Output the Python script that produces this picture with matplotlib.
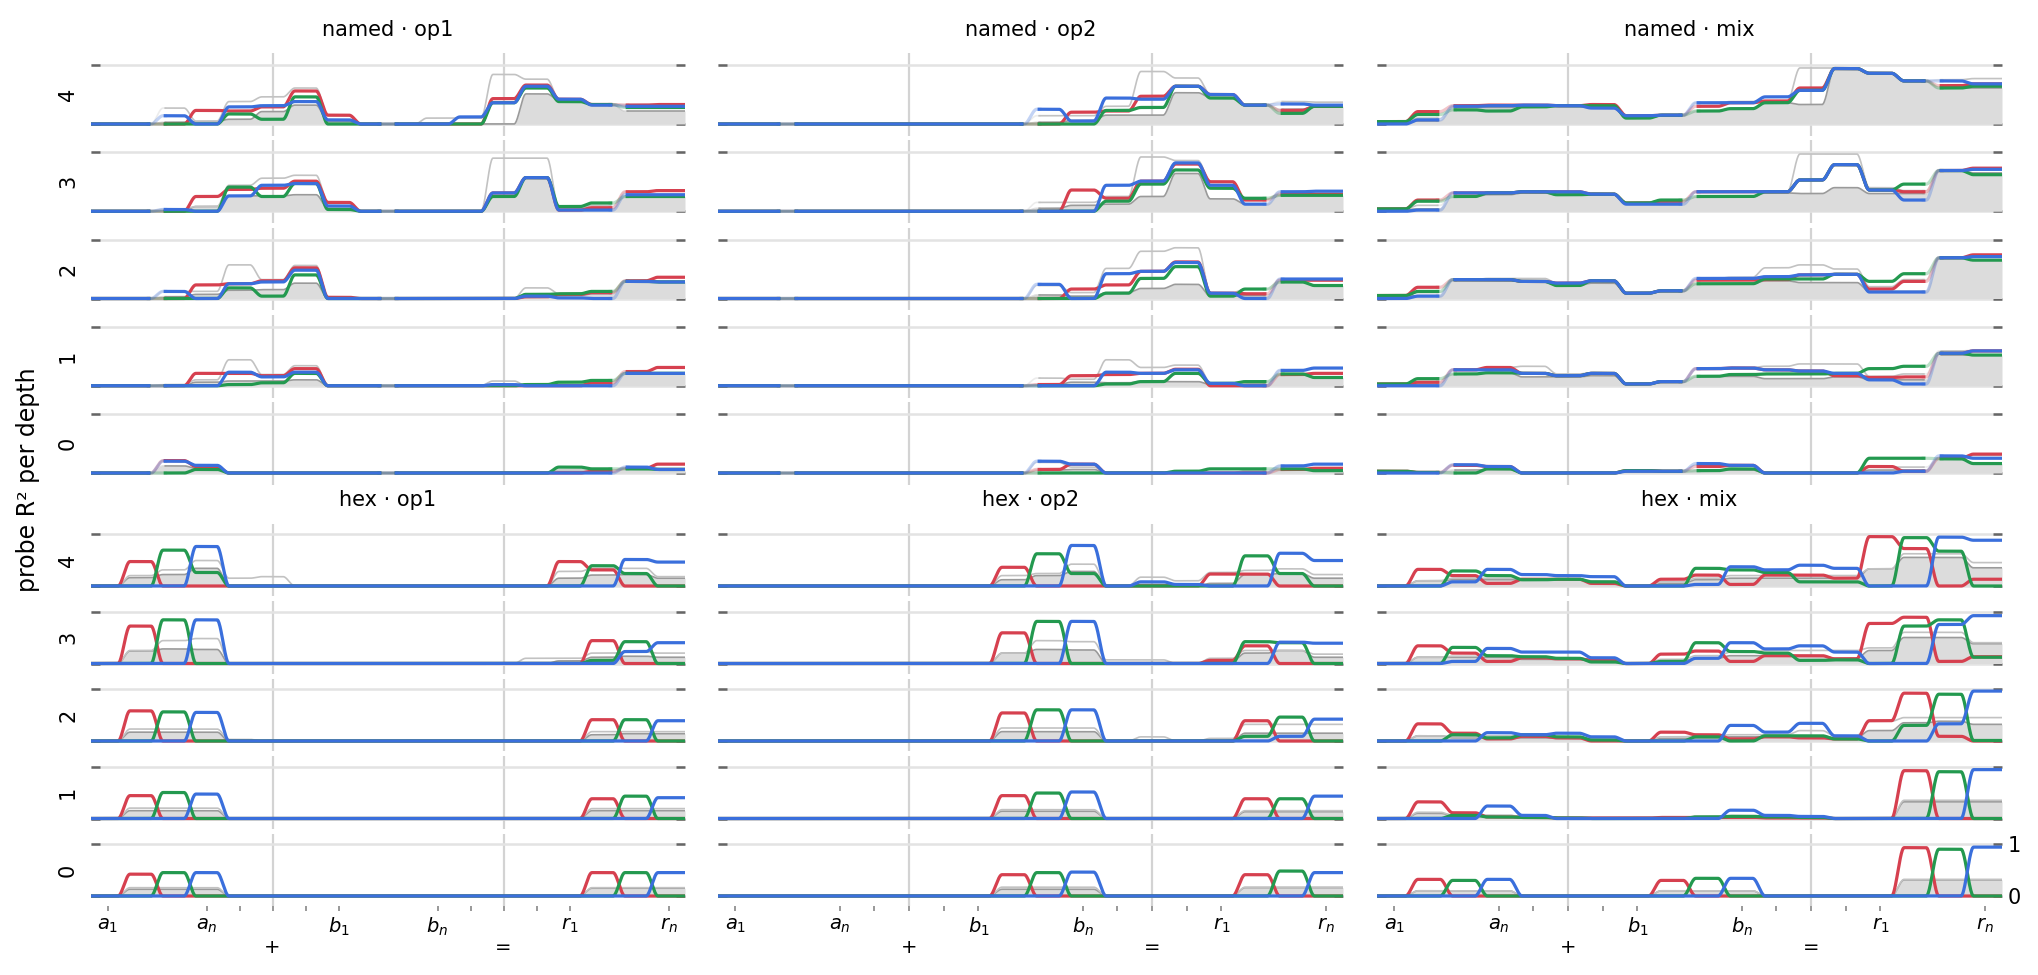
import numpy as np
import matplotlib
matplotlib.use("Agg")
import matplotlib.pyplot as plt

# ── Data: probe R² per token position, rows = depth 4 (top) .. 0 (bottom) ──
DEPTHS = [4, 3, 2, 1, 0]
TICK_POS = [0, 3, 4, 5, 6, 7, 10, 11, 12, 13, 14, 17]
TICK_LABELS = ["$a_1$", "$a_n$", "", "\n+", "", "$b_1$", "$b_n$", "", "\n=", "", "$r_1$", "$r_n$"]

NAMED_OP1_RED = [
    [0, 0, 0, .23, .22, .29, .56, .15, 0, 0, 0, 0, .43, .66, .42, .33, .32, .33],
    [0, 0, 0, .25, .37, .39, .51, .15, 0, 0, 0, 0, .31, .57, .02, .06, .33, .35],
    [0, 0, 0, .23, .25, .30, .52, .02, 0, 0, 0, 0, 0, .03, .07, .10, .30, .36],
    [0, 0, 0, .21, .21, .17, .29, 0, 0, 0, 0, 0, 0, 0, 0, .05, .24, .31],
    [0, 0, .21, .11, 0, 0, 0, 0, 0, 0, 0, 0, 0, 0, 0, .03, .08, .15],
]
NAMED_OP1_GREEN = [
    [0, 0, 0, 0, .17, .08, .46, 0, 0, 0, 0, 0, .36, .61, .38, .33, .28, .28],
    [0, 0, 0, 0, .41, .25, .47, .03, 0, 0, 0, 0, .25, .57, .08, .14, .25, .25],
    [0, 0, 0, 0, .18, .04, .40, 0, 0, 0, 0, 0, 0, .07, .08, .12, .29, .28],
    [0, 0, 0, 0, .02, .05, .21, 0, 0, 0, 0, 0, 0, .02, .06, .09, .21, .21],
    [0, 0, 0, .06, 0, 0, 0, 0, 0, 0, 0, 0, 0, 0, .10, .07, .07, .06],
]
NAMED_OP1_BLUE = [
    [0, 0, .14, 0, .29, .31, .38, .07, 0, 0, 0, .12, .36, .64, .42, .32, .30, .30],
    [0, 0, .03, 0, .26, .44, .47, .09, 0, 0, 0, 0, .31, .57, .02, .02, .28, .28],
    [0, 0, .12, 0, .25, .28, .48, 0, 0, 0, 0, 0, 0, .04, .01, 0, .29, .28],
    [0, 0, 0, 0, .23, .15, .23, 0, 0, 0, 0, 0, .02, 0, 0, 0, .21, .21],
    [0, 0, .20, .13, 0, 0, 0, 0, 0, 0, 0, 0, 0, 0, 0, 0, .10, .06],
]
NAMED_OP1_GRAY = [
    [0, 0, .27, .05, .38, .46, .61, .14, 0, 0, .10, .10, .84, .76, .42, .33, .33, .33],
    [0, 0, .04, .08, .44, .56, .61, .15, 0, 0, 0, 0, .90, .90, .05, .10, .33, .35],
    [0, 0, .12, .12, .57, .32, .56, .02, 0, 0, 0, 0, 0, .18, .08, .12, .30, .30],
    [0, 0, .02, .10, .44, .19, .34, 0, 0, 0, 0, 0, .08, 0, .06, .09, .22, .22],
    [0, 0, .21, .12, 0, 0, 0, 0, 0, 0, 0, 0, 0, 0, .05, .05, .08, .08],
]
NAMED_OP1_FILL = [
    [0, 0, .03, .04, .08, .21, .32, .04, 0, 0, 0, 0, 0, .51, .40, .33, .22, .22],
    [0, 0, 0, .08, .26, .26, .28, .05, 0, 0, 0, 0, .25, .57, .02, .03, .25, .25],
    [0, 0, .03, .07, .14, .15, .26, 0, 0, 0, 0, 0, 0, .02, .05, .08, .28, .28],
    [0, 0, .01, .06, .08, .08, .10, 0, 0, 0, 0, 0, 0, 0, .02, .04, .20, .20],
    [0, 0, .12, .08, 0, 0, 0, 0, 0, 0, 0, 0, 0, 0, .02, .02, .07, .06],
]

NAMED_OP2_RED = [
    [0, 0, 0, 0, 0, 0, 0, 0, 0, 0, .20, .22, .47, .64, .50, .32, .23, .30],
    [0, 0, 0, 0, 0, 0, 0, 0, 0, 0, .36, .22, .51, .80, .50, .19, .29, .29],
    [0, 0, 0, 0, 0, 0, 0, 0, 0, 0, .16, .23, .46, .62, .09, .08, .31, .31],
    [0, 0, 0, 0, 0, 0, 0, 0, 0, .02, .17, .19, .21, .28, 0, 0, .19, .21],
    [0, 0, 0, 0, 0, 0, 0, 0, 0, .06, .15, 0, 0, 0, 0, 0, .06, .08],
]
NAMED_OP2_GREEN = [
    [0, 0, 0, 0, 0, 0, 0, 0, 0, 0, 0, .23, .28, .64, .44, .32, .18, .30],
    [0, 0, 0, 0, 0, 0, 0, 0, 0, 0, 0, .17, .46, .70, .39, .22, .27, .27],
    [0, 0, 0, 0, 0, 0, 0, 0, 0, 0, 0, .09, .34, .54, .04, .16, .28, .22],
    [0, 0, 0, 0, 0, 0, 0, 0, 0, 0, 0, .03, .07, .21, .04, .07, .20, .14],
    [0, 0, 0, 0, 0, 0, 0, 0, 0, 0, 0, 0, 0, .03, .07, .07, .07, .04],
]
NAMED_OP2_BLUE = [
    [0, 0, 0, 0, 0, 0, 0, 0, 0, .25, .05, .44, .42, .64, .50, .32, .34, .32],
    [0, 0, 0, 0, 0, 0, 0, 0, 0, 0, 0, .44, .51, .82, .44, .12, .33, .34],
    [0, 0, 0, 0, 0, 0, 0, 0, 0, .24, 0, .42, .46, .61, .09, 0, .33, .33],
    [0, 0, 0, 0, 0, 0, 0, 0, 0, 0, 0, .23, .21, .27, .04, 0, .26, .30],
    [0, 0, 0, 0, 0, 0, 0, 0, 0, .20, .15, 0, 0, 0, 0, 0, .12, .15],
]
NAMED_OP2_GRAY = [
    [0, 0, 0, 0, 0, 0, 0, 0, 0, .14, .14, .30, .89, .78, .50, .33, .38, .37],
    [0, 0, 0, 0, 0, 0, 0, 0, 0, .15, .15, .25, .92, .86, .50, .20, .33, .34],
    [0, 0, 0, 0, 0, 0, 0, 0, 0, .22, .10, .51, .80, .86, .10, .16, .33, .33],
    [0, 0, 0, 0, 0, 0, 0, 0, 0, .13, .11, .44, .31, .35, .05, .07, .26, .30],
    [0, 0, 0, 0, 0, 0, 0, 0, 0, .18, .10, 0, 0, 0, 0, .04, .12, .15],
]
NAMED_OP2_FILL = [
    [0, 0, 0, 0, 0, 0, 0, 0, 0, .03, .06, .15, .15, .53, .45, .32, .25, .30],
    [0, 0, 0, 0, 0, 0, 0, 0, 0, .05, .10, .12, .25, .64, .21, .12, .27, .27],
    [0, 0, 0, 0, 0, 0, 0, 0, 0, .06, .04, .10, .17, .24, .04, .05, .28, .22],
    [0, 0, 0, 0, 0, 0, 0, 0, 0, .02, .06, .05, .07, .07, .02, .03, .19, .14],
    [0, 0, 0, 0, 0, 0, 0, 0, 0, .05, .06, 0, 0, 0, 0, .02, .06, .04],
]

NAMED_MIX_RED = [
    [.04, .21, .31, .32, .32, .31, .33, .14, .15, .30, .36, .39, .61, .94, .86, .73, .65, .68],
    [.04, .19, .31, .31, .33, .33, .29, .14, .17, .33, .33, .33, .53, .79, .36, .33, .69, .73],
    [.05, .19, .32, .32, .29, .26, .30, .09, .13, .31, .31, .32, .40, .41, .16, .29, .69, .74],
    [.03, .06, .27, .31, .21, .17, .21, .03, .07, .29, .30, .27, .25, .17, .14, .15, .55, .59],
    [.03, .01, .13, .11, 0, 0, 0, .04, .03, .11, .13, 0, 0, 0, .11, .03, .25, .32],
]
NAMED_MIX_GREEN = [
    [.04, .16, .24, .22, .29, .31, .31, .10, .15, .22, .26, .36, .57, .94, .86, .73, .61, .64],
    [.04, .17, .25, .31, .33, .28, .29, .14, .19, .25, .25, .33, .53, .79, .36, .46, .69, .62],
    [.05, .12, .32, .32, .29, .22, .30, .09, .13, .25, .25, .33, .33, .41, .29, .42, .69, .65],
    [.03, .12, .20, .22, .21, .17, .21, .03, .07, .16, .19, .20, .20, .21, .29, .33, .55, .52],
    [.03, .01, 0, .07, 0, 0, 0, .04, .03, .04, .07, 0, 0, 0, .25, .25, .24, .16],
]
NAMED_MIX_BLUE = [
    [0, .07, .30, .31, .32, .31, .27, .14, .15, .36, .36, .46, .57, .94, .86, .73, .73, .68],
    [0, .02, .31, .31, .33, .33, .29, .12, .12, .33, .33, .33, .53, .79, .36, .19, .69, .71],
    [0, .04, .32, .32, .29, .26, .30, .09, .13, .34, .34, .37, .40, .41, .11, .11, .69, .71],
    [0, 0, .27, .27, .21, .17, .21, .03, .07, .29, .30, .27, .25, .21, .10, .03, .55, .59],
    [0, 0, .14, .11, 0, 0, 0, .03, .03, .16, .13, 0, 0, 0, 0, .03, .29, .25],
]
NAMED_MIX_GRAY = [
    [.04, .10, .30, .31, .32, .31, .33, .14, .15, .36, .38, .39, .95, .95, .86, .73, .75, .77],
    [.04, .10, .31, .31, .33, .33, .31, .14, .17, .33, .33, .33, .97, .97, .40, .35, .70, .73],
    [.05, .10, .32, .34, .34, .26, .30, .09, .13, .34, .36, .52, .57, .50, .20, .32, .69, .74],
    [.03, .06, .27, .31, .33, .20, .22, .03, .07, .29, .31, .33, .37, .37, .16, .20, .59, .60],
    [.02, .02, .13, .11, 0, 0, 0, .04, .04, .14, .13, 0, 0, 0, .10, .10, .25, .30],
]
NAMED_MIX_FILL = [
    [.03, .05, .28, .28, .30, .30, .27, .10, .14, .22, .26, .36, .33, .94, .86, .73, .61, .61],
    [.03, .04, .25, .28, .31, .28, .28, .12, .14, .25, .25, .31, .30, .40, .30, .30, .69, .65],
    [.04, .05, .30, .30, .28, .22, .26, .08, .12, .25, .25, .30, .27, .27, .12, .12, .69, .65],
    [.02, .03, .20, .22, .15, .15, .17, .03, .06, .16, .16, .12, .12, .15, .10, .10, .52, .52],
    [.01, .01, .05, .06, 0, 0, 0, .02, .02, .05, .05, 0, 0, 0, .05, .05, .24, .16],
]

HEX_OP1_RED = [
    [0, .47, 0, 0, 0, 0, 0, 0, 0, 0, 0, 0, 0, 0, .47, .31, 0, 0],
    [0, .72, 0, 0, 0, 0, 0, 0, 0, 0, 0, 0, 0, 0, 0, .44, 0, 0],
    [0, .58, 0, 0, 0, 0, 0, 0, 0, 0, 0, 0, 0, 0, 0, .41, 0, 0],
    [0, .44, 0, 0, 0, 0, 0, 0, 0, 0, 0, 0, 0, 0, 0, .38, 0, 0],
    [0, .42, 0, 0, 0, 0, 0, 0, 0, 0, 0, 0, 0, 0, 0, .45, 0, 0],
]
HEX_OP1_GREEN = [
    [0, 0, .69, .26, 0, 0, 0, 0, 0, 0, 0, 0, 0, 0, 0, .39, .24, 0],
    [0, 0, .84, 0, 0, 0, 0, 0, 0, 0, 0, 0, 0, 0, 0, .06, .42, 0],
    [0, 0, .56, 0, 0, 0, 0, 0, 0, 0, 0, 0, 0, 0, 0, 0, .41, 0],
    [0, 0, .50, 0, 0, 0, 0, 0, 0, 0, 0, 0, 0, 0, 0, 0, .43, 0],
    [0, 0, .45, 0, 0, 0, 0, 0, 0, 0, 0, 0, 0, 0, 0, 0, .45, 0],
]
HEX_OP1_BLUE = [
    [0, 0, 0, .76, 0, 0, 0, 0, 0, 0, 0, 0, 0, 0, 0, 0, .51, .46],
    [0, 0, 0, .84, 0, 0, 0, 0, 0, 0, 0, 0, 0, 0, 0, 0, .23, .40],
    [0, 0, 0, .55, 0, 0, 0, 0, 0, 0, 0, 0, 0, 0, 0, 0, 0, .39],
    [0, 0, 0, .47, 0, 0, 0, 0, 0, 0, 0, 0, 0, 0, 0, 0, 0, .40],
    [0, 0, 0, .45, 0, 0, 0, 0, 0, 0, 0, 0, 0, 0, 0, 0, 0, .45],
]
HEX_OP1_GRAY = [
    [0, .20, .31, .49, .15, .18, 0, 0, 0, 0, 0, 0, 0, 0, .28, .34, .34, .18],
    [0, .25, .44, .48, 0, 0, 0, 0, 0, 0, 0, 0, 0, .10, .10, .20, .22, .20],
    [0, .23, .23, .23, .03, 0, 0, 0, 0, 0, 0, 0, 0, 0, 0, .18, .18, .18],
    [0, .20, .20, .20, 0, 0, 0, 0, 0, 0, 0, 0, 0, 0, 0, .19, .19, .19],
    [0, .16, .16, .16, 0, 0, 0, 0, 0, 0, 0, 0, 0, 0, 0, .16, .16, .16],
]
HEX_OP1_FILL = [
    [0, .16, .22, .34, 0, 0, 0, 0, 0, 0, 0, 0, 0, 0, .15, .21, .22, .15],
    [0, .24, .28, .27, 0, 0, 0, 0, 0, 0, 0, 0, 0, 0, .05, .12, .14, .12],
    [0, .17, .17, .17, 0, 0, 0, 0, 0, 0, 0, 0, 0, 0, 0, .12, .14, .14],
    [0, .15, .15, .15, 0, 0, 0, 0, 0, 0, 0, 0, 0, 0, 0, .15, .15, .15],
    [0, .13, .13, .13, 0, 0, 0, 0, 0, 0, 0, 0, 0, 0, 0, .15, .15, .15],
]

HEX_OP2_RED = [
    [0, 0, 0, 0, 0, 0, 0, 0, .36, 0, 0, 0, 0, 0, .23, .23, 0, 0],
    [0, 0, 0, 0, 0, 0, 0, 0, .59, 0, 0, 0, 0, 0, .06, .34, 0, 0],
    [0, 0, 0, 0, 0, 0, 0, 0, .54, 0, 0, 0, 0, 0, 0, .39, 0, 0],
    [0, 0, 0, 0, 0, 0, 0, 0, .44, 0, 0, 0, 0, 0, 0, .38, 0, 0],
    [0, 0, 0, 0, 0, 0, 0, 0, .41, 0, 0, 0, 0, 0, 0, .41, 0, 0],
]
HEX_OP2_GREEN = [
    [0, 0, 0, 0, 0, 0, 0, 0, 0, .62, .24, 0, 0, 0, 0, .58, .24, 0],
    [0, 0, 0, 0, 0, 0, 0, 0, 0, .81, 0, 0, 0, 0, 0, .42, .40, 0],
    [0, 0, 0, 0, 0, 0, 0, 0, 0, .60, 0, 0, 0, 0, 0, .09, .46, 0],
    [0, 0, 0, 0, 0, 0, 0, 0, 0, .49, 0, 0, 0, 0, 0, 0, .38, 0],
    [0, 0, 0, 0, 0, 0, 0, 0, 0, .45, 0, 0, 0, 0, 0, 0, .48, 0],
]
HEX_OP2_BLUE = [
    [0, 0, 0, 0, 0, 0, 0, 0, 0, 0, .78, 0, .08, .03, 0, 0, .63, .49],
    [0, 0, 0, 0, 0, 0, 0, 0, 0, 0, .81, 0, 0, 0, 0, 0, .41, .39],
    [0, 0, 0, 0, 0, 0, 0, 0, 0, 0, .60, 0, 0, 0, 0, 0, .09, .42],
    [0, 0, 0, 0, 0, 0, 0, 0, 0, 0, .51, 0, 0, 0, 0, 0, 0, .43],
    [0, 0, 0, 0, 0, 0, 0, 0, 0, 0, .46, 0, 0, 0, 0, 0, 0, .45],
]
HEX_OP2_GRAY = [
    [0, 0, 0, 0, 0, 0, 0, 0, .20, .24, .42, 0, .17, .10, .26, .30, .33, .22],
    [0, 0, 0, 0, 0, 0, 0, 0, .20, .44, .42, .07, .07, 0, .10, .25, .25, .18],
    [0, 0, 0, 0, 0, 0, 0, 0, .25, .25, .25, 0, .08, 0, .05, .32, .32, .32],
    [0, 0, 0, 0, 0, 0, 0, 0, .17, .17, .17, 0, 0, 0, 0, .15, .15, .15],
    [0, 0, 0, 0, 0, 0, 0, 0, .17, .17, .17, 0, 0, 0, 0, .17, .17, .17],
]
HEX_OP2_FILL = [
    [0, 0, 0, 0, 0, 0, 0, 0, .12, .20, .28, 0, .03, 0, .05, .22, .24, .15],
    [0, 0, 0, 0, 0, 0, 0, 0, .20, .27, .26, 0, 0, 0, .04, .20, .25, .12],
    [0, 0, 0, 0, 0, 0, 0, 0, .18, .18, .18, 0, 0, 0, 0, .15, .15, .15],
    [0, 0, 0, 0, 0, 0, 0, 0, .14, .14, .14, 0, 0, 0, 0, .13, .13, .13],
    [0, 0, 0, 0, 0, 0, 0, 0, .13, .13, .13, 0, 0, 0, 0, .16, .16, .16],
]

HEX_MIX_RED = [
    [0, .32, .20, .05, .13, .13, .05, 0, .13, .21, .03, .21, .21, .15, .95, .72, 0, .13],
    [0, .34, .20, .04, .11, .09, .06, 0, .18, .24, .04, .15, .15, .09, .77, .89, .04, .13],
    [0, .33, .15, .04, .09, .06, 0, 0, .17, .12, .04, .08, .06, .04, .39, .92, .09, 0],
    [0, .32, .11, .03, .02, .01, .01, .01, .02, .02, .02, .01, .01, 0, 0, .92, 0, 0],
    [0, .32, 0, 0, 0, 0, 0, 0, .30, 0, 0, 0, 0, 0, 0, .93, 0, 0],
]
HEX_MIX_GREEN = [
    [0, 0, .29, .20, .12, .13, .08, 0, 0, .34, .31, .26, .08, .08, 0, .93, .67, 0],
    [0, 0, .31, .15, .13, .10, .03, 0, .04, .40, .23, .20, .06, .07, 0, .72, .84, .12],
    [0, 0, .12, .06, .12, .08, .02, 0, 0, .08, 0, .10, .10, .04, 0, .30, .90, .01],
    [0, 0, .06, .03, .02, .01, 0, 0, 0, .03, .04, .03, .02, 0, 0, 0, .90, 0],
    [0, 0, .30, 0, 0, 0, 0, 0, 0, .34, 0, 0, 0, 0, 0, 0, .90, 0],
]
HEX_MIX_BLUE = [
    [0, 0, .08, .32, .22, .20, .18, 0, 0, .03, .37, .31, .40, .34, 0, 0, .94, .88],
    [0, 0, .04, .29, .22, .22, .11, 0, 0, .10, .40, .28, .34, .22, 0, 0, .75, .92],
    [0, 0, 0, .16, .12, .15, .08, 0, 0, 0, .30, .17, .34, .10, 0, 0, .33, .96],
    [0, 0, 0, .24, .06, 0, 0, 0, 0, 0, .16, .06, .04, 0, 0, 0, 0, .94],
    [0, 0, 0, .32, 0, 0, 0, 0, 0, 0, .34, 0, 0, 0, 0, 0, 0, .94],
]
HEX_MIX_GRAY = [
    [0, .10, .15, .15, .14, .14, .10, 0, .08, .15, .20, .20, .20, .20, .33, .62, .62, .45],
    [0, .12, .14, .14, .12, .10, .08, 0, .08, .15, .22, .25, .25, .25, .30, .60, .60, .40],
    [0, .10, .08, .10, .10, .08, .05, 0, .08, .10, .12, .12, .20, .10, .38, .45, .45, .45],
    [0, .12, .06, .06, .04, .02, 0, 0, 0, .04, .06, .04, .03, 0, 0, .35, .35, .35],
    [0, .10, .10, .10, 0, 0, 0, 0, .10, .10, .10, 0, 0, 0, 0, .32, .32, .32],
]
HEX_MIX_FILL = [
    [0, .10, .12, .12, .12, .13, .08, 0, .05, .12, .15, .15, .15, .15, .33, .55, .55, .35],
    [0, .12, .12, .12, .08, .08, .08, 0, .05, .10, .15, .15, .15, .10, .25, .50, .50, .38],
    [0, .10, .06, .06, .06, .05, .02, 0, .05, .06, .08, .08, .10, .06, .20, .35, .38, .32],
    [0, .10, .06, .06, .02, 0, 0, 0, 0, .02, .03, .02, .02, 0, 0, .32, .32, .32],
    [0, .10, .10, .10, 0, 0, 0, 0, .10, .10, .10, 0, 0, 0, 0, .31, .31, .31],
]

PANELS = [
    ("named", "op1", NAMED_OP1_RED, NAMED_OP1_GREEN, NAMED_OP1_BLUE, NAMED_OP1_GRAY, NAMED_OP1_FILL),
    ("named", "op2", NAMED_OP2_RED, NAMED_OP2_GREEN, NAMED_OP2_BLUE, NAMED_OP2_GRAY, NAMED_OP2_FILL),
    ("named", "mix", NAMED_MIX_RED, NAMED_MIX_GREEN, NAMED_MIX_BLUE, NAMED_MIX_GRAY, NAMED_MIX_FILL),
    ("hex", "op1", HEX_OP1_RED, HEX_OP1_GREEN, HEX_OP1_BLUE, HEX_OP1_GRAY, HEX_OP1_FILL),
    ("hex", "op2", HEX_OP2_RED, HEX_OP2_GREEN, HEX_OP2_BLUE, HEX_OP2_GRAY, HEX_OP2_FILL),
    ("hex", "mix", HEX_MIX_RED, HEX_MIX_GREEN, HEX_MIX_BLUE, HEX_MIX_GRAY, HEX_MIX_FILL),
]

# ── Style ────────────────────────────────────────────────────────────────────
RED, GREEN, BLUE = "#d6404f", "#23994f", "#3a6fdc"
W, H, DPI = 2038, 975, 200
COLS = [(91, 594), (718, 625), (1377, 625)]          # left px, width px
GROUPS = {"named": (53.2, 87.25, 82.6, 30),          # first top, pitch, height, title y
          "hex": (523.6, 77.5, 72.8, 500)}
FADE_AT = [1.5, 8.5, 15.5]                            # digit-alignment seams (named only)
XS = np.linspace(-0.5, 17.5, 1801)


def smooth_steps(vals, w=0.36):
    """Per-token values held flat, joined by short smooth ramps at token edges."""
    vals = np.asarray(vals, float)
    y = np.full_like(XS, vals[0])
    for k in range(1, len(vals)):
        t = np.clip((XS - (k - 0.5)) / w + 0.5, 0, 1)
        y += (vals[k] - vals[k - 1]) * t * t * (3 - 2 * t)
    return y


def draw(ax, y, fade, **kw):
    if not fade:
        ax.plot(XS, y, **kw)
        return
    d = np.min([np.abs(XS - c) for c in FADE_AT], axis=0)
    ax.plot(XS, np.where(d < 0.25, np.nan, y), **kw)
    kw = dict(kw, alpha=0.3)
    ax.plot(XS, np.where(d < 0.27, y, np.nan), **kw)


def px_axes(x, top, w, h):
    return fig.add_axes([x / W, 1 - (top + h) / H, w / W, h / H])


fig = plt.figure(figsize=(W / DPI, H / DPI), dpi=DPI)

for p, (group, op, red, green, blue, gray, fill) in enumerate(PANELS):
    col = p % 3
    x0, wpx = COLS[col]
    top0, pitch, hpx, title_y = GROUPS[group]
    fade = group == "named"
    fig.text((x0 + wpx / 2) / W, 1 - title_y / H, f"{group} · {op}",
             ha="center", va="center", fontsize=7.5)

    for r, depth in enumerate(DEPTHS):
        ax = px_axes(x0, top0 + r * pitch, wpx, hpx)
        ax.set_xlim(-0.5, 17.5)
        ax.set_ylim(-0.2, 1.2)
        for s in ax.spines.values():
            s.set_visible(False)
        ax.set_yticks([0, 1])
        ax.yaxis.grid(True, color="#e3e3e3", lw=0.9)
        ax.set_axisbelow(True)
        ax.tick_params(axis="y", direction="in", length=3.2, width=0.9, color="#666666",
                       left=True, right=True, labelleft=False, labelright=False)
        for xv in (5, 12):
            ax.axvline(xv, color="#d3d3d3", lw=0.8, zorder=0.5)

        fc = smooth_steps(fill[r])
        ax.fill_between(XS, 0, fc, color="#dcdcdc", lw=0, zorder=1)
        draw(ax, fc, fade, color="#9a9a9a", lw=0.6, zorder=2)
        draw(ax, smooth_steps(gray[r]), fade, color="#c2c2c2", lw=0.6, zorder=2)
        draw(ax, smooth_steps(red[r]), fade, color=RED, lw=1.15, zorder=3)
        draw(ax, smooth_steps(green[r]), fade, color=GREEN, lw=1.15, zorder=4)
        draw(ax, smooth_steps(blue[r]), fade, color=BLUE, lw=1.15, zorder=5)

        if col == 0:
            ax.text(-23 / wpx, 0.5, str(depth), transform=ax.transAxes, rotation=90,
                    ha="center", va="center", fontsize=7.5)

        if group == "hex" and depth == 0:
            ax.set_xticks(TICK_POS)
            ax.set_xticklabels(TICK_LABELS, fontsize=7)
            ax.tick_params(axis="x", length=1.8, width=0.7, color="#999999", pad=1.5)
            if col == 2:
                ax.set_yticklabels(["0", "1"])
                ax.tick_params(axis="y", labelright=True, labelsize=7.5, pad=2)
        else:
            ax.set_xticks([])

fig.text(28 / W, 1 - 480 / H, "probe R² per depth", rotation=90,
         ha="center", va="center", fontsize=8.5)

fig.savefig("out.png", dpi=DPI)
